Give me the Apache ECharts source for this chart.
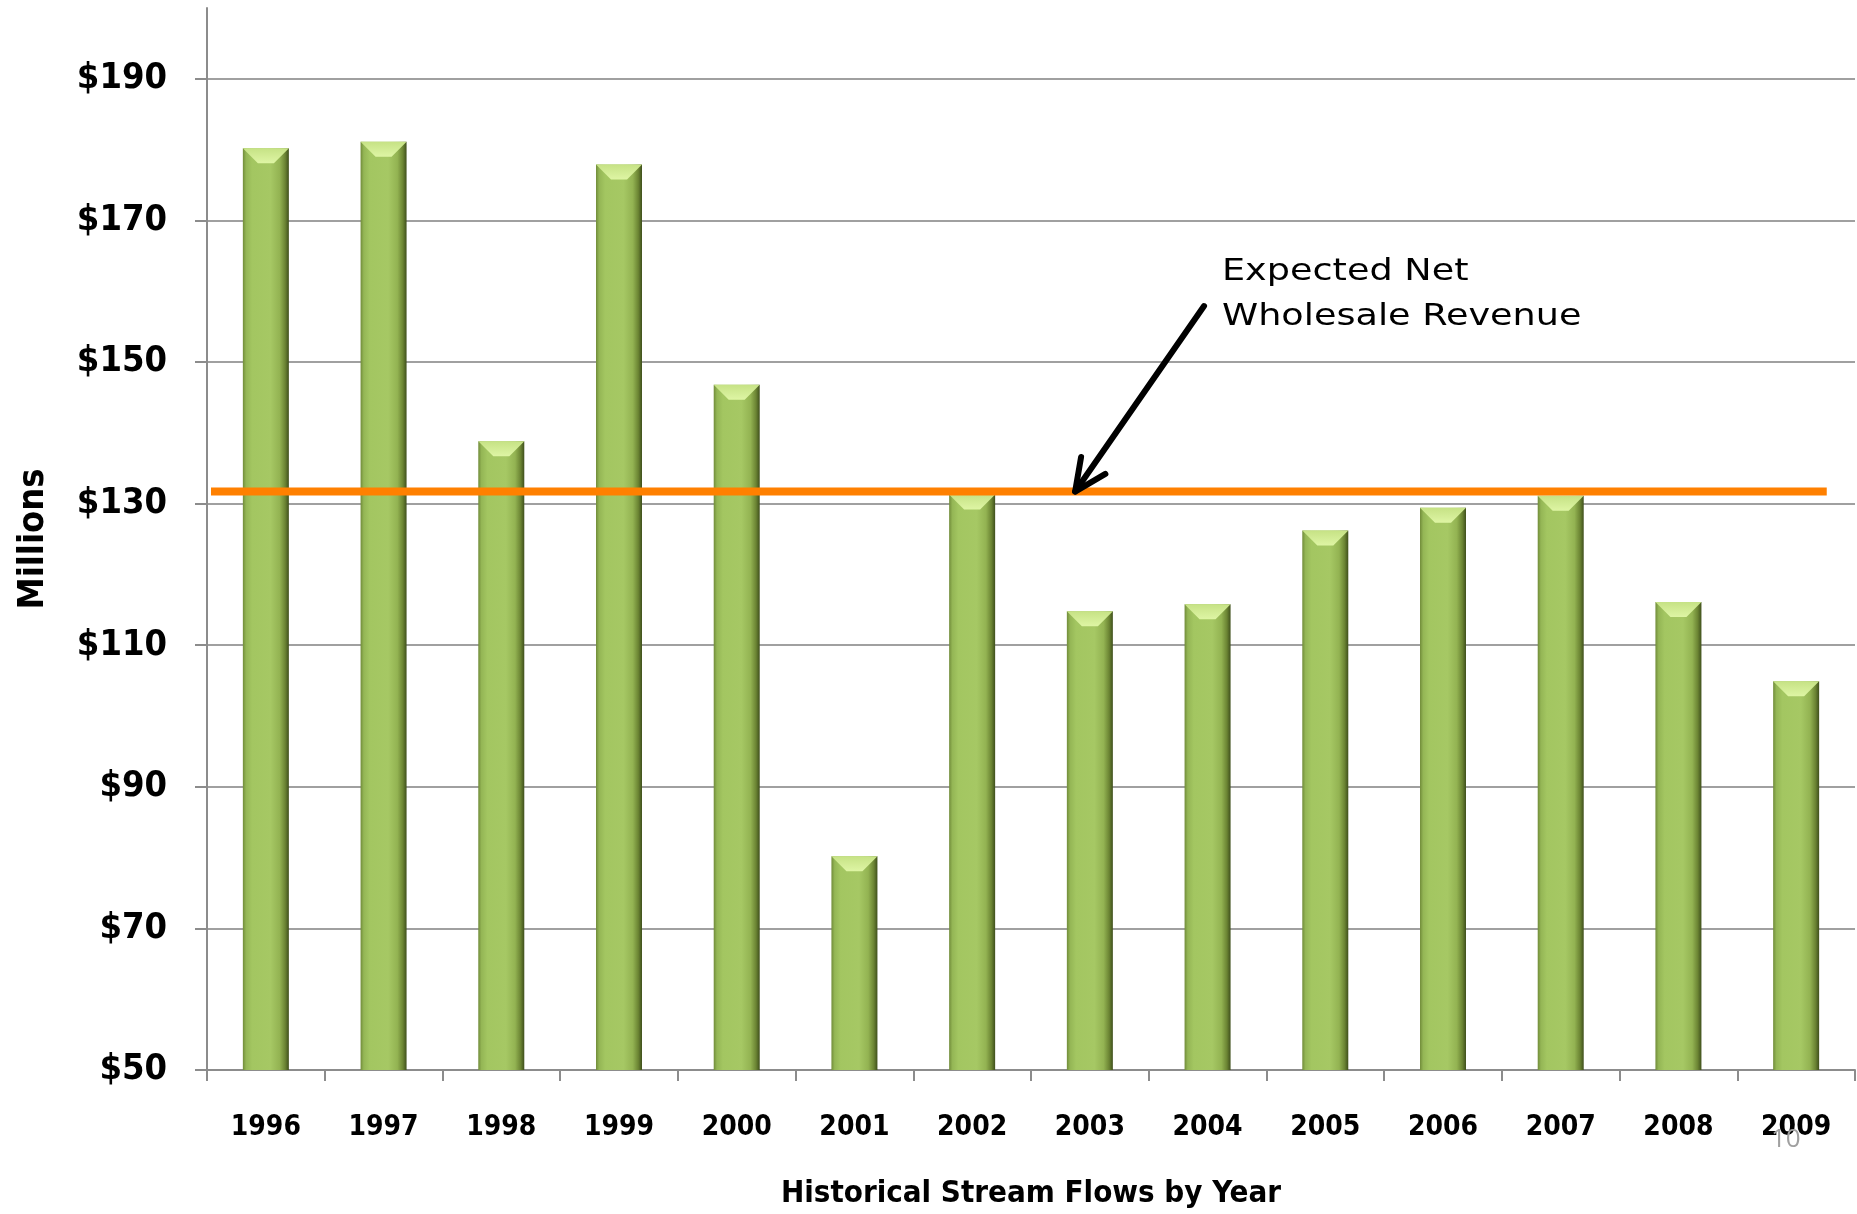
<!DOCTYPE html>
<html>
<head>
<meta charset="utf-8">
<script src="https://cdn.jsdelivr.net/npm/echarts@6/dist/echarts.min.js"></script>
<style>
  html, body { margin: 0; padding: 0; background: #ffffff; }
  #chart { width: 1857px; height: 1214px; }
</style>
</head>
<body>
<div id="chart"></div>
<script>
// ---- data ----
const years = ['1996','1997','1998','1999','2000','2001','2002','2003','2004','2005','2006','2007','2008','2009'];
const revenue = [180.2, 181.1, 138.8, 177.9, 146.8, 80.2, 131.3, 114.8, 115.8, 126.2, 129.4, 131.1, 116.1, 104.9];
const expectedRevenue = 131.7;
const yTicks = [50, 70, 90, 110, 130, 150, 170, 190];
const annotationText = ['Expected Net', 'Wholesale Revenue'];
// arrow in (category-position, value) units: [fromX, fromY, toX, toY]
const arrowData = [[8.47, 157.9, 7.375, expectedRevenue]];
const lineExtent = [0.034, 13.76];
const pageNumber = '10';

const COND = '"DejaVu Sans Condensed", "Liberation Sans Narrow", "DejaVu Sans", sans-serif';

const chart = echarts.init(document.getElementById('chart'), null, { renderer: 'canvas' });

const barGradient = new echarts.graphic.LinearGradient(0, 0, 1, 0, [
  { offset: 0.00, color: '#718c3a' },
  { offset: 0.07, color: '#94b655' },
  { offset: 0.20, color: '#a3c661' },
  { offset: 0.60, color: '#a6c864' },
  { offset: 0.80, color: '#93b352' },
  { offset: 0.92, color: '#6b8433' },
  { offset: 1.00, color: '#3f4f1c' }
]);
const bevelGradient = new echarts.graphic.LinearGradient(0, 0, 0, 1, [
  { offset: 0, color: '#c6e285' },
  { offset: 1, color: '#def5a4' }
]);

const option = {
  animation: false,
  backgroundColor: '#ffffff',
  grid: { left: 207, right: 2, top: 8, bottom: 143, containLabel: false },
  xAxis: [
    {
      type: 'category',
      data: years,
      boundaryGap: true,
      axisLine: { show: true, lineStyle: { color: '#8c8c8c', width: 2 } },
      axisTick: { show: true, inside: false, length: 11, alignWithLabel: false, lineStyle: { color: '#8c8c8c', width: 2 } },
      axisLabel: { margin: 44, color: '#000', fontFamily: COND, fontWeight: 'bold', fontSize: 28 },
      splitLine: { show: false },
      name: 'Historical Stream Flows by Year',
      nameLocation: 'middle',
      nameGap: 108,
      nameTextStyle: { color: '#000', fontFamily: COND, fontWeight: 'bold', fontSize: 31 }
    },
    {
      type: 'value',
      min: 0,
      max: years.length,
      show: false
    }
  ],
  yAxis: {
    type: 'value',
    min: 50,
    max: 200,
    interval: 20,
    axisLine: { show: true, lineStyle: { color: '#8c8c8c', width: 2 } },
    axisTick: { show: true, inside: false, length: 12, lineStyle: { color: '#8c8c8c', width: 2 }, customValues: yTicks },
    axisLabel: {
      margin: 40, color: '#000', fontFamily: COND, fontWeight: 'bold', fontSize: 36,
      customValues: yTicks,
      formatter: v => '$' + v
    },
    splitLine: { show: true, showMinLine: false, lineStyle: { color: '#a0a0a0', width: 2 } },
    name: 'Millions',
    nameLocation: 'middle',
    nameRotate: 90,
    nameGap: 155,
    nameTextStyle: { color: '#000', fontFamily: COND, fontWeight: 'bold', fontSize: 36 }
  },
  series: [
    {
      type: 'bar',
      name: 'Revenue',
      data: revenue,
      barWidth: 46,
      itemStyle: { color: barGradient },
      z: 2
    },
    {
      type: 'pictorialBar',
      name: 'bevel',
      data: revenue,
      symbol: 'path://M0,0 L46,0 L31,15 L15,15 Z',
      symbolSize: [46, 15],
      symbolPosition: 'end',
      itemStyle: { color: bevelGradient },
      z: 3,
      silent: true
    },
    {
      type: 'line',
      name: 'Expected',
      xAxisIndex: 1,
      data: [[lineExtent[0], expectedRevenue], [lineExtent[1], expectedRevenue]],
      symbol: 'none',
      lineStyle: { color: '#ff8000', width: 8 },
      z: 5,
      silent: true
    },
    {
      type: 'custom',
      name: 'arrow',
      xAxisIndex: 1,
      data: arrowData,
      z: 6,
      silent: true,
      renderItem: function (params, api) {
        const p0 = api.coord([api.value(0), api.value(1)]);
        const p1 = api.coord([api.value(2), api.value(3)]);
        const ang = Math.atan2(p0[1] - p1[1], p0[0] - p1[0]);
        const L = 35, spread = 25 * Math.PI / 180;
        const w1 = [p1[0] + L * Math.cos(ang - spread), p1[1] + L * Math.sin(ang - spread)];
        const w2 = [p1[0] + L * Math.cos(ang + spread), p1[1] + L * Math.sin(ang + spread)];
        const st = { stroke: '#000', lineWidth: 6, lineCap: 'round', lineJoin: 'round', fill: null };
        return {
          type: 'group',
          children: [
            { type: 'line', shape: { x1: p0[0], y1: p0[1], x2: p1[0], y2: p1[1] }, style: st },
            { type: 'polyline', shape: { points: [w1, p1, w2] }, style: st }
          ]
        };
      }
    }
  ],
  graphic: [
    {
      type: 'text',
      x: 1222,
      y: 249,
      scaleX: 1.18,
      z: 10,
      style: {
        text: annotationText.join('\n'),
        font: '31px "DejaVu Sans", Verdana, sans-serif',
        lineHeight: 45,
        fill: '#000'
      }
    },
    {
      type: 'text',
      x: 1771,
      y: 1127,
      z: 20,
      style: {
        text: pageNumber,
        font: '26px "Open Sans", "DejaVu Sans", sans-serif',
        fill: '#a0a0a0'
      }
    }
  ]
};
chart.setOption(option);
</script>
</body>
</html>
